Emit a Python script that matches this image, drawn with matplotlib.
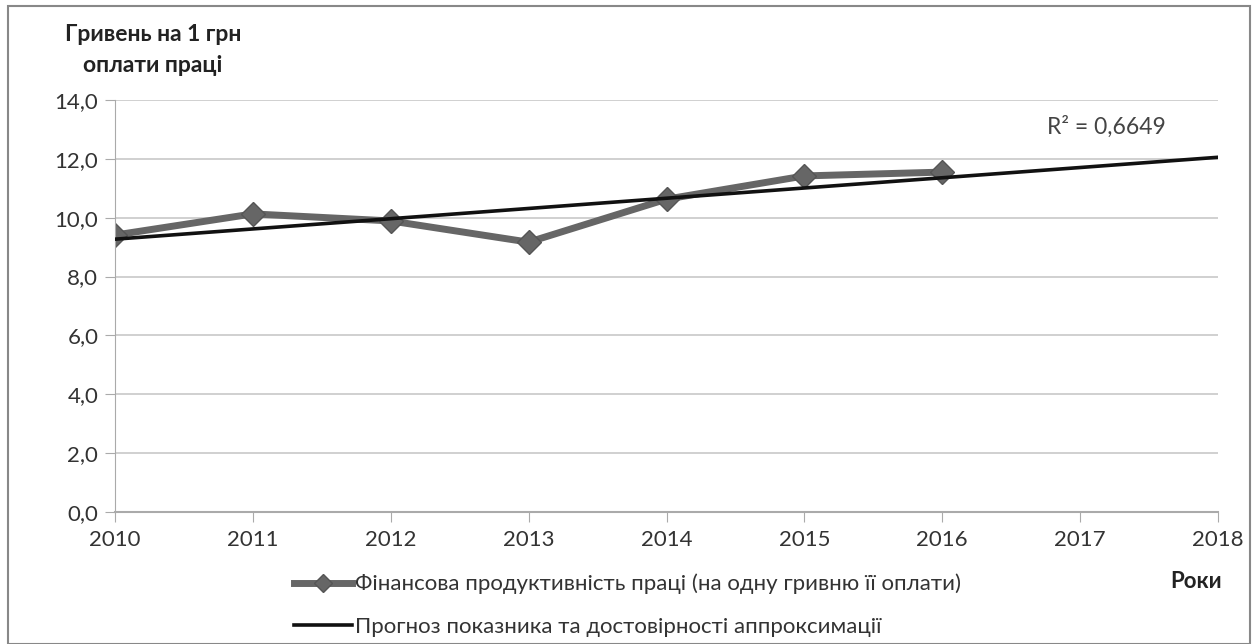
import numpy as np
import matplotlib
matplotlib.use("Agg")
import matplotlib.pyplot as plt
from matplotlib.lines import Line2D

plt.rcParams['font.family'] = ['Lato', 'DejaVu Sans']

years = [2010, 2011, 2012, 2013, 2014, 2015, 2016]
values = [9.41, 10.13, 9.89, 9.17, 10.63, 11.42, 11.55]
x_ticks = [2010, 2011, 2012, 2013, 2014, 2015, 2016, 2017, 2018]
y_ticks = [0, 2, 4, 6, 8, 10, 12, 14]
series_label = "Фінансова продуктивність праці (на одну гривню її оплати)"
trend_label = "Прогноз показника та достовірності аппроксимації"
r2_text = "R² = 0,6649"
ylabel = "Гривень на 1 грн\nоплати праці"
xlabel = "Роки"

fig = plt.figure(figsize=(12.57, 6.44), dpi=100)
fig.patch.set_facecolor('white')
ax = fig.add_axes([115/1257, 1 - 512/644, (1218-115)/1257, (512-100)/644])

# trend (linear fit of the data)
coef = np.polyfit(years, values, 1)
tx = np.array([2010, 2018])
ax.plot(tx, np.polyval(coef, tx), color='#111111', lw=2.6, zorder=3)
ax.plot(years, values, color='#666666', lw=5, marker='D', markersize=12,
        markerfacecolor='#666666', markeredgecolor='#555555', zorder=2)

ax.set_xlim(2010, 2018)
ax.set_ylim(0, 14)
ax.set_xticks(x_ticks)
ax.set_xticklabels([str(v) for v in x_ticks])
ax.set_yticks(y_ticks)
ax.set_yticklabels([f"{v:.1f}".replace('.', ',') for v in y_ticks])
ax.yaxis.grid(True, color='#c8c8c8', lw=1.2)
ax.set_axisbelow(True)
for s in ['top', 'right']:
    ax.spines[s].set_visible(False)
ax.spines['left'].set_color('#aaaaaa')
ax.spines['bottom'].set_color('#aaaaaa')
ax.spines['bottom'].set_linewidth(1.5)
ax.tick_params(axis='both', colors='#aaaaaa', labelcolor='#333333', labelsize=16,
               length=7, direction='out')
ax.tick_params(axis='x', pad=6)
ax.tick_params(axis='y', pad=5)

ax.text(0.845, 0.935, r2_text, transform=ax.transAxes, fontsize=16.5,
        color='#444444', ha='left', va='center')

fig.text(153/1257, 1 - 50/644, ylabel, ha='center', va='center', fontsize=16.5,
         fontweight='bold', color='#222222', linespacing=1.6)
fig.text(1196/1257, 1 - 582/644, xlabel, ha='center', va='center', fontsize=16,
         fontweight='bold', color='#222222')

h1 = Line2D([], [], color='#666666', lw=5, marker='D', markersize=9,
            markerfacecolor='#666666', markeredgecolor='#555555')
h2 = Line2D([], [], color='#111111', lw=2.6)
leg = fig.legend([h1, h2], [series_label, trend_label], loc='upper left',
                 bbox_to_anchor=(285/1257, 1 - 565/644), frameon=False,
                 fontsize=16, handlelength=2.6, handletextpad=0.15,
                 labelspacing=1.0, borderaxespad=0)
for t in leg.get_texts():
    t.set_color('#333333')

# outer border
fig.add_artist(plt.Rectangle((8/1257, 0.0), (1250-8)/1257, 1 - 6/644,
                             transform=fig.transFigure, fill=False,
                             edgecolor='#888888', lw=1.5))

fig.savefig('out.png', dpi=100)
